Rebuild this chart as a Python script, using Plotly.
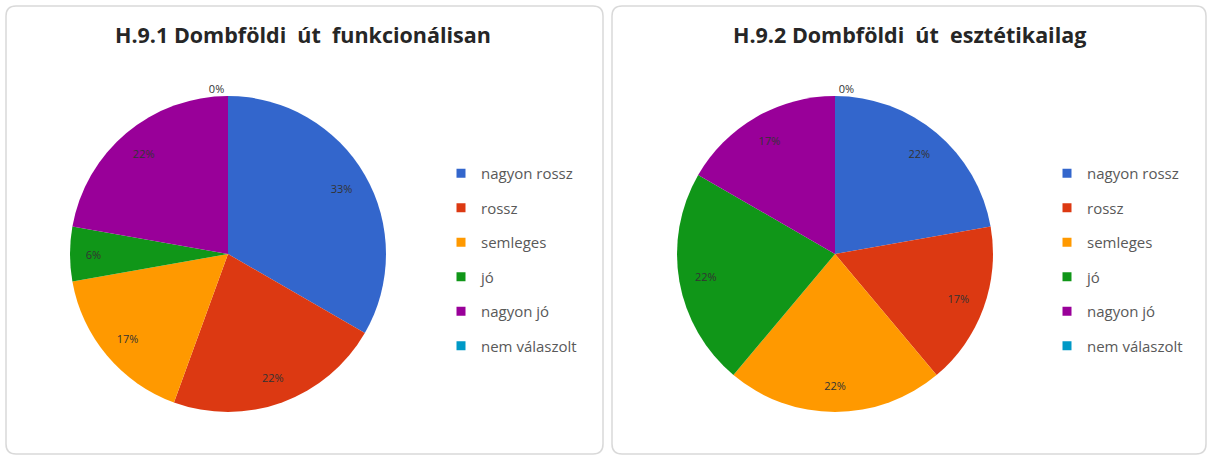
import plotly.graph_objects as go

categories = ["nagyon rossz", "rossz", "semleges", "jó", "nagyon jó", "nem válaszolt"]
colors = ["#3366CC", "#DC3912", "#FF9900", "#109618", "#990099", "#0099C6"]
values_func = [6, 4, 3, 1, 4, 0]   # H.9.1 -> 33%, 22%, 17%, 6%, 22%, 0%
values_est = [4, 3, 4, 4, 3, 0]    # H.9.2 -> 22%, 17%, 22%, 22%, 17%, 0%
titles = ["H.9.1 Dombföldi\u00a0 út\u00a0 funkcionálisan",
          "H.9.2 Dombföldi\u00a0 út\u00a0 esztétikailag"]

W, H = 1210, 457
FONT = "Open Sans"

fig = go.Figure()

pie_domains = [
    dict(x=[70 / W, 386 / W], y=[45 / H, 361 / H]),
    dict(x=[677 / W, 993 / W], y=[45 / H, 361 / H]),
]

for vals, dom in zip([values_func, values_est], pie_domains):
    # coloured slices
    fig.add_trace(go.Pie(
        labels=categories, values=vals, sort=False, direction="clockwise",
        rotation=0, domain=dom, showlegend=False, textinfo="none",
        marker=dict(colors=colors, line=dict(width=0)),
    ))
    # transparent ring carrying the percentage labels near the outer edge
    fig.add_trace(go.Pie(
        labels=categories, values=vals, sort=False, direction="clockwise",
        rotation=0, domain=dom, showlegend=False, hole=0.66,
        hoverinfo="skip",
        marker=dict(colors=["rgba(0,0,0,0)"] * len(categories), line=dict(width=0)),
        texttemplate="%{percent:.0%}",
        textposition=["inside"] * 5 + ["outside"],
        insidetextorientation="horizontal",
        textfont=dict(family=FONT, size=11, color="#333333"),
        outsidetextfont=dict(family=FONT, size=11, color="#333333"),
    ))

# legend entries (one set per panel)
for leg in ["legend", "legend2"]:
    for cat, col in zip(categories, colors):
        fig.add_trace(go.Scatter(
            x=[None], y=[None], mode="markers", name=cat, legend=leg,
            legendgroup=leg + cat,
            marker=dict(symbol="square", size=9, color=col),
        ))

legend_style = dict(
    font=dict(family=FONT, size=15, color="#595959"),
    bgcolor="rgba(0,0,0,0)", tracegroupgap=12, traceorder="grouped",
    itemwidth=30, yanchor="top", xanchor="left",
)


def rounded_rect(x0, y0, x1, y1, r):
    # pixel coords (top-left origin) -> paper-coordinate SVG path
    X = lambda v: v / W
    Y = lambda v: 1 - v / H
    return (f"M {X(x0 + r)},{Y(y0)} L {X(x1 - r)},{Y(y0)} "
            f"Q {X(x1)},{Y(y0)} {X(x1)},{Y(y0 + r)} L {X(x1)},{Y(y1 - r)} "
            f"Q {X(x1)},{Y(y1)} {X(x1 - r)},{Y(y1)} L {X(x0 + r)},{Y(y1)} "
            f"Q {X(x0)},{Y(y1)} {X(x0)},{Y(y1 - r)} L {X(x0)},{Y(y0 + r)} "
            f"Q {X(x0)},{Y(y0)} {X(x0 + r)},{Y(y0)} Z")


fig.update_layout(
    width=W, height=H, margin=dict(l=0, r=0, t=0, b=0),
    paper_bgcolor="white", plot_bgcolor="white",
    xaxis=dict(visible=False), yaxis=dict(visible=False),
    legend=dict(x=441 / W, y=1 - 157 / H, **legend_style),
    legend2=dict(x=1047 / W, y=1 - 157 / H, **legend_style),
    shapes=[
        dict(type="path", xref="paper", yref="paper",
             path=rounded_rect(6, 6, 603, 454, 10),
             line=dict(color="#D9D9D9", width=1.5), layer="below"),
        dict(type="path", xref="paper", yref="paper",
             path=rounded_rect(612, 6, 1206, 454, 10),
             line=dict(color="#D9D9D9", width=1.5), layer="below"),
    ],
    annotations=[
        dict(text="<b>" + titles[0] + "</b>", x=303 / W, y=1 - 35 / H,
             xref="paper", yref="paper", showarrow=False,
             xanchor="center", yanchor="middle",
             font=dict(family=FONT, size=21.5, color="#262626")),
        dict(text="<b>" + titles[1] + "</b>", x=909 / W, y=1 - 35 / H,
             xref="paper", yref="paper", showarrow=False,
             xanchor="center", yanchor="middle",
             font=dict(family=FONT, size=21.5, color="#262626")),
    ],
)

fig.write_html("out.html", config={"displayModeBar": False},
               post_script="document.body.style.margin='0';")
